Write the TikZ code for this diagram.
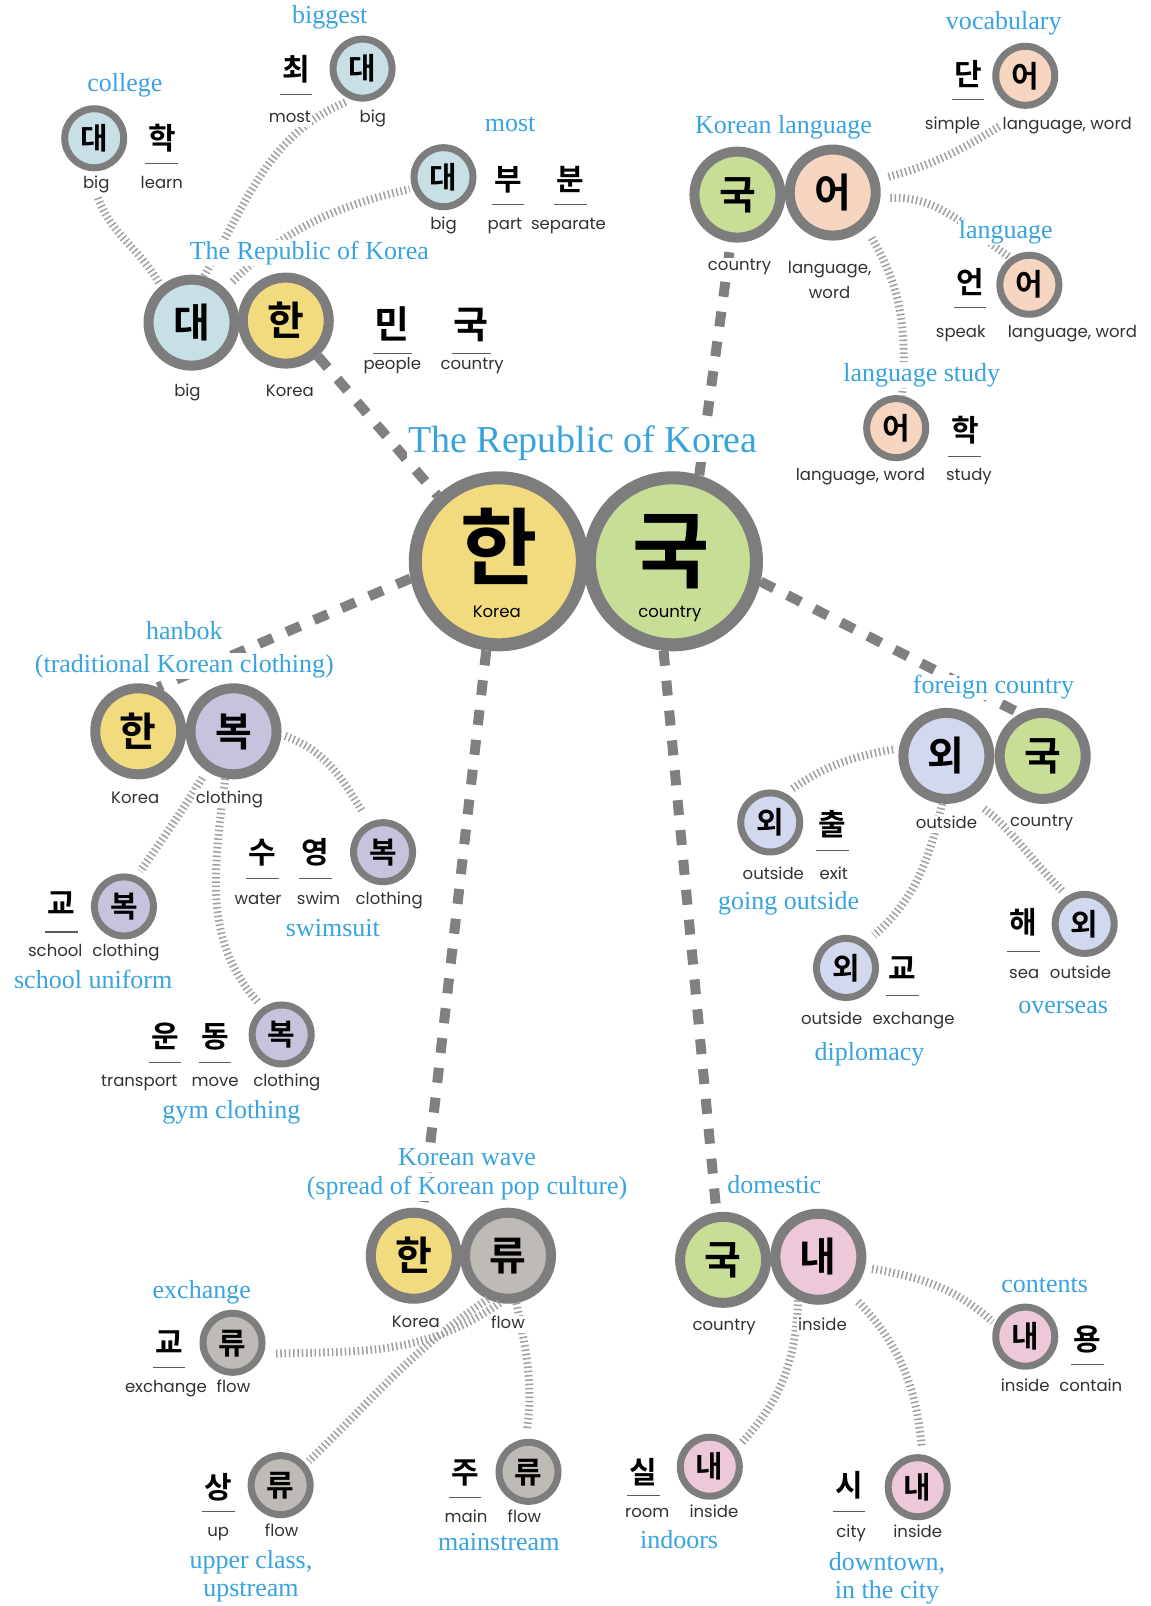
\documentclass[tikz,border=0pt]{standalone}
\usepackage{fontspec}
\newfontfamily\kor{Noto Sans CJK KR Bold}
\newfontfamily\lbl{Poppins}
\newfontfamily\blfont{Liberation Serif}
\definecolor{borderg}{RGB}{125,125,125}
\definecolor{dashg}{RGB}{128,128,128}
\definecolor{hatchg}{RGB}{160,160,160}
\definecolor{ulineg}{RGB}{90,90,90}
\definecolor{cblue}{RGB}{200,223,230}
\definecolor{cyellow}{RGB}{242,218,126}
\definecolor{cgreen}{RGB}{200,222,150}
\definecolor{cpeach}{RGB}{246,214,192}
\definecolor{clav}{RGB}{200,195,220}
\definecolor{cperi}{RGB}{210,216,238}
\definecolor{cgray}{RGB}{190,186,182}
\definecolor{cpink}{RGB}{236,200,216}
\definecolor{bluetext}{RGB}{56,163,222}
\definecolor{labeltext}{RGB}{50,50,50}
\tikzset{
  circ/.style={circle, draw=borderg, inner sep=0pt},
  bigc/.style={circ, line width=10pt, minimum size=86pt},
  smallc/.style={circ, line width=7pt, minimum size=59pt},
  cenc/.style={circ, line width=13pt, minimum size=167pt},
  hs/.style={font=\kor\fontsize{30}{30}\selectfont, inner sep=0pt, text height=24pt, text depth=1.5pt},
  hb/.style={font=\kor\fontsize{40}{40}\selectfont, inner sep=0pt, text height=32pt, text depth=2pt},
  hm/.style={font=\kor\fontsize{38}{38}\selectfont, inner sep=0pt, text height=30.4pt, text depth=1.9pt},
  hc/.style={font=\kor\fontsize{84}{84}\selectfont, inner sep=0pt, text height=67pt, text depth=4.2pt},
  gl/.style={font=\lbl\fontsize{16.5}{20}\selectfont, text=labeltext, fill=white, inner sep=1pt, text height=12pt, text depth=3.5pt},
  glin/.style={font=\lbl\fontsize{16.5}{20}\selectfont, text=black, inner sep=0pt, text height=12pt, text depth=3.5pt},
  bl/.style={font=\blfont\fontsize{26}{30}\selectfont, text=bluetext, fill=white, inner sep=1pt, text height=18pt, text depth=5.5pt},
  blbig/.style={font=\blfont\fontsize{38}{40}\selectfont, text=bluetext, fill=white, inner sep=1pt, text height=26.6pt, text depth=8pt},
  uline/.style={draw=ulineg, line width=1.2pt},
  hatch/.style={draw=hatchg, line width=8pt, dash pattern=on 1.5pt off 2.8pt},
  dline/.style={draw=dashg, line width=10pt, dash pattern=on 15pt off 15pt},
}
\newcommand\ulc[2]{\draw[uline] ({#1-16},#2) -- ({#1+16},#2);}
\newcommand\ulcb[2]{\draw[uline] ({#1-19},#2) -- ({#1+19},#2);}
\begin{document}
\begin{tikzpicture}[x=1.024pt,y=1.024pt]
\fill[white] (0,0) rectangle (1123,-1568);
\useasboundingbox (0,0) rectangle (1123,-1568);

% ================= circles and Hangul =================
% top-left
\node[hs] (kChoe) at (289,-68) {최}; \ulc{289}{-92}
\node[smallc,fill=cblue,hs] (cBig2) at (354,-67) {대};
\node[smallc,fill=cblue,hs] (cCol) at (92,-135) {대};
\node[hs] (kHak1) at (158,-135) {학}; \ulc{158}{-160}
\node[smallc,fill=cblue,hs] (cMost) at (433,-173) {대};
\node[hs] (kBu) at (496,-175) {부}; \ulc{496}{-200}
\node[hs] (kBun) at (557,-175) {분}; \ulc{557}{-200}
\node[bigc,fill=cblue,hb] (cDae) at (187,-315) {대};
\node[bigc,fill=cyellow,hb] (cHan1) at (279,-313) {한};
\node[hm] (kMin) at (383,-317) {민}; \ulcb{383}{-345}
\node[hm] (kGuk0) at (460,-317) {국}; \ulcb{460}{-345}
% centre
\node[cenc,fill=cyellow] (cHan) at (487,-548) {};
\node[cenc,fill=cgreen] (cGuk) at (657,-548) {};
\node[hc] (kHan) at (487,-534) {한};
\node[hc] (kGuk) at (655,-537) {국};
\node[glin] (gHanC) at (485,-599) {Korea};
\node[glin] (gGukC) at (654,-599) {country};
% Korean language
\node[bigc,fill=cgreen,hb] (cKLguk) at (720,-190) {국};
\node[bigc,fill=cpeach,hb] (cKLeo) at (813,-188) {어};
\node[hs] (kDan) at (945,-72) {단}; \ulc{945}{-97}
\node[smallc,fill=cpeach,hs] (cVeo) at (1001,-74) {어};
\node[hs] (kEon) at (947,-276) {언}; \ulc{947}{-300}
\node[smallc,fill=cpeach,hs] (cLeo) at (1005,-278) {어};
\node[smallc,fill=cpeach,hs] (cLSeo) at (875,-418) {어};
\node[hs] (kHak2) at (942,-420) {학}; \ulc{942}{-446}
% hanbok
\node[bigc,fill=cyellow,hb] (cHhan) at (135,-714) {한};
\node[bigc,fill=clav,hb] (cHbok) at (228,-714) {복};
\node[hs] (kSu) at (256,-832) {수}; \ulc{256}{-858}
\node[hs] (kYeong) at (308,-832) {영}; \ulc{308}{-858}
\node[smallc,fill=clav,hs] (cSbok) at (374,-832) {복};
\node[hs] (kGyo1) at (60,-882) {교}; \ulc{60}{-910}
\node[smallc,fill=clav,hs] (cSchbok) at (121,-885) {복};
\node[hs] (kUn) at (161,-1012) {운}; \ulc{161}{-1037}
\node[hs] (kDong) at (210,-1012) {동}; \ulc{210}{-1037}
\node[smallc,fill=clav,hs] (cGbok) at (275,-1010) {복};
% foreign country
\node[bigc,fill=cperi,hb] (cFwe) at (924,-738) {외};
\node[bigc,fill=cgreen,hb] (cFguk) at (1018,-738) {국};
\node[smallc,fill=cperi,hs] (cGowe) at (752,-803) {외};
\node[hs] (kChul) at (813,-805) {출}; \ulc{813}{-830}
\node[smallc,fill=cperi,hs] (cDwe) at (826,-945) {외};
\node[hs] (kGyo2) at (881,-945) {교}; \ulc{881}{-972}
\node[hs] (kHae) at (999,-900) {해}; \ulc{999}{-929}
\node[smallc,fill=cperi,hs] (cOwe) at (1059,-902) {외};
% Korean wave
\node[bigc,fill=cyellow,hb] (cWhan) at (404,-1226) {한};
\node[bigc,fill=cgray,hb] (cWryu) at (496,-1226) {류};
\node[hs] (kGyo3) at (165,-1310) {교}; \ulc{165}{-1335}
\node[smallc,fill=cgray,hs] (cEryu) at (227,-1311) {류};
\node[hs] (kSang) at (213,-1452) {상}; \ulc{213}{-1476}
\node[smallc,fill=cgray,hs] (cUryu) at (274,-1450) {류};
\node[hs] (kJu) at (454,-1437) {주}; \ulc{454}{-1462}
\node[smallc,fill=cgray,hs] (cMryu) at (516,-1437) {류};
% domestic
\node[bigc,fill=cgreen,hb] (cDguk) at (706,-1230) {국};
\node[bigc,fill=cpink,hb] (cDnae) at (799,-1227) {내};
\node[smallc,fill=cpink,hs] (cCnae) at (1001,-1305) {내};
\node[hs] (kYong) at (1062,-1308) {용}; \ulc{1062}{-1332}
\node[hs] (kSil) at (628,-1437) {실}; \ulc{628}{-1460}
\node[smallc,fill=cpink,hs] (cInae) at (693,-1432) {내};
\node[hs] (kSi) at (829,-1450) {시}; \ulc{829}{-1476}
\node[smallc,fill=cpink,hs] (cTnae) at (896,-1452) {내};

% labels that connectors end at
\node[gl] (gColBig) at (94,-180) {big};
\node[gl] (gVocLW) at (1042,-122) {language, word};

% ================= connectors =================
\draw[dline] (cHan1.-48) -- (cHan.133);
\draw[dline] (cGuk.73) -- (cKLguk.-98);
\draw[dline] (cHan.191) -- (cHhan.66);
\draw[dline] (cHan.262) -- (cWhan.79);
\draw[dline] (cGuk.264) -- (cDguk.98);
\draw[dline] (cGuk.-13) -- (cFguk.118);

\draw[hatch, shorten <=4pt, shorten >=4pt] (cDae.130) to[out=120,in=-70] (gColBig.south);
\draw[hatch, shorten >=5pt] (cDae.75) to[out=60,in=203] (cBig2.250);
\draw[hatch, shorten <=10pt, shorten >=3pt] (cDae.45) to[out=45,in=193] (cMost.200);
\draw[hatch, shorten <=10pt, shorten >=2pt] (cKLeo.16) to[out=15,in=212] (gVocLW.west);
\draw[hatch, shorten <=10pt] (cKLeo.-7) to[out=3,in=145] (cLeo.125);
\draw[hatch, shorten <=12pt] (cKLeo.-47) to[out=-59,in=85] (cLSeo.80);
\draw[hatch, shorten <=4pt, shorten >=12pt] (cHbok.-4) to[out=-20,in=122] (cSbok.115);
\draw[hatch, shorten <=8pt, shorten >=6pt] (cHbok.-124) to[out=-122,in=55] (cSchbok.67);
\draw[hatch, shorten >=6pt] (cHbok.-100) to[out=-97,in=132] (cGbok.125);
\draw[hatch, shorten <=6pt, shorten >=6pt] (cFwe.171) to[out=190,in=35] (cGowe.62);
\draw[hatch, shorten >=10pt] (cFwe.-95) to[out=-103,in=41] (cDwe.52);
\draw[hatch, shorten <=18pt, shorten >=6pt] (cFwe.-61) to[out=-37,in=135] (cOwe.122);
\draw[hatch, shorten >=10pt] (cWryu.-100) to[out=215,in=2] (cEryu.-20);
\draw[hatch, shorten >=4pt] (cWryu.-115) to[out=214,in=44] (cUryu.40);
\draw[hatch, shorten >=10pt] (cWryu.-80) to[out=-78,in=82] (cMryu.95);
\draw[hatch, shorten <=7pt, shorten >=3pt] (cDnae.-13) to[out=-10,in=138] (cCnae.157);
\draw[hatch, shorten >=6pt] (cDnae.-115) to[out=-92,in=47] (cInae.35);
\draw[hatch, shorten <=12pt, shorten >=9pt] (cDnae.-49) to[out=-46,in=95] (cTnae.82);

% ================= labels =================
% top-left
\node[bl] (tBiggest) at (322,-17) {biggest};
\node[gl] (gMost1) at (283,-115) {most};
\node[gl] (gBig2) at (364,-115) {big};
\node[bl] (tCollege) at (122,-83) {college};
\node[gl] (gLearn) at (158,-180) {learn};
\node[bl] (tMost) at (498,-122) {most};
\node[gl] (gMostBig) at (433,-220) {big};
\node[gl] (gPart) at (493,-220) {part};
\node[gl] (gSep) at (555,-220) {separate};
\node[bl] (tROKs) at (302,-247) {The Republic of Korea};
\node[gl] (gDaeBig) at (183,-383) {big};
\node[gl] (gHan1) at (283,-383) {Korea};
\node[gl] (gPeople) at (383,-357) {people};
\node[gl] (gCountry0) at (461,-357) {country};
% centre
\node[blbig] (tROK) at (569,-433) {The Republic of Korea};
% Korean language
\node[bl] (tKL) at (765,-124) {Korean language};
\node[gl] (gKLc) at (722,-260) {country};
\node[gl] (gKLlw) at (810,-263) {language,};
\node[gl] (gKLw) at (810,-287) {word};
\node[bl] (tVoc) at (980,-23) {vocabulary};
\node[gl] (gSimple) at (930,-122) {simple};
\node[bl] (tLang) at (982,-227) {language};
\node[gl] (gSpeak) at (938,-325) {speak};
\node[gl] (gLangLW) at (1047,-325) {language, word};
\node[bl] (tLS) at (900,-366) {language study};
\node[gl] (gLSlw) at (840,-465) {language, word};
\node[gl] (gStudy) at (946,-465) {study};
% hanbok
\node[bl] (tHanbok) at (180,-618) {hanbok};
\node[bl] (tHanbok2) at (180,-650) {(traditional Korean clothing)};
\node[gl] (gHhan) at (132,-780) {Korea};
\node[gl] (gHbok) at (224,-780) {clothing};
\node[gl] (gWater) at (252,-879) {water};
\node[gl] (gSwim) at (311,-879) {swim};
\node[gl] (gSclo) at (380,-879) {clothing};
\node[bl] (tSwimsuit) at (325,-908) {swimsuit};
\node[gl] (gSchool) at (54,-930) {school};
\node[gl] (gSchclo) at (123,-930) {clothing};
\node[bl] (tSchU) at (91,-959) {school uniform};
\node[gl] (gTrans) at (136,-1057) {transport};
\node[gl] (gMove) at (210,-1057) {move};
\node[gl] (gGclo) at (280,-1057) {clothing};
\node[bl] (tGym) at (226,-1086) {gym clothing};
% foreign country
\node[bl] (tForeign) at (970,-671) {foreign country};
\node[gl] (gFwe) at (924,-805) {outside};
\node[gl] (gFguk) at (1017,-803) {country};
\node[gl] (gGoout) at (755,-855) {outside};
\node[gl] (gExit) at (814,-855) {exit};
\node[bl] (tGoing) at (770,-882) {going outside};
\node[gl] (gDout) at (812,-996) {outside};
\node[gl] (gDexch) at (892,-996) {exchange};
\node[bl] (tDipl) at (849,-1029) {diplomacy};
\node[gl] (gSea) at (1000,-951) {sea};
\node[gl] (gOout) at (1055,-951) {outside};
\node[bl] (tOverseas) at (1038,-983) {overseas};
% Korean wave
\node[bl] (tWave) at (456,-1132) {Korean wave};
\node[bl] (tWave2) at (456,-1160) {(spread of Korean pop culture)};
\node[gl] (gWhan) at (406,-1292) {Korea};
\node[gl] (gWryu) at (496,-1293) {flow};
\node[bl] (tExch) at (197,-1262) {exchange};
\node[gl] (gExch) at (162,-1355) {exchange};
\node[gl] (gEflow) at (228,-1355) {flow};
\node[gl] (gUp) at (213,-1496) {up};
\node[gl] (gUflow) at (275,-1496) {flow};
\node[bl] (tUpper) at (245,-1525) {upper class,};
\node[bl] (tUpstream) at (245,-1553) {upstream};
\node[gl] (gMain) at (455,-1482) {main};
\node[gl] (gMflow) at (512,-1482) {flow};
\node[bl] (tMainstream) at (487,-1508) {mainstream};
% domestic
\node[bl] (tDomestic) at (756,-1159) {domestic};
\node[gl] (gDguk) at (707,-1295) {country};
\node[gl] (gDnae) at (803,-1295) {inside};
\node[bl] (tContents) at (1020,-1256) {contents};
\node[gl] (gCin) at (1001,-1354) {inside};
\node[gl] (gContain) at (1065,-1354) {contain};
\node[gl] (gRoom) at (632,-1477) {room};
\node[gl] (gIin) at (697,-1477) {inside};
\node[bl] (tIndoors) at (663,-1506) {indoors};
\node[gl] (gCity) at (831,-1497) {city};
\node[gl] (gTin) at (896,-1497) {inside};
\node[bl] (tDowntown) at (866,-1527) {downtown,};
\node[bl] (tInCity) at (866,-1555) {in the city};
\end{tikzpicture}
\end{document}
